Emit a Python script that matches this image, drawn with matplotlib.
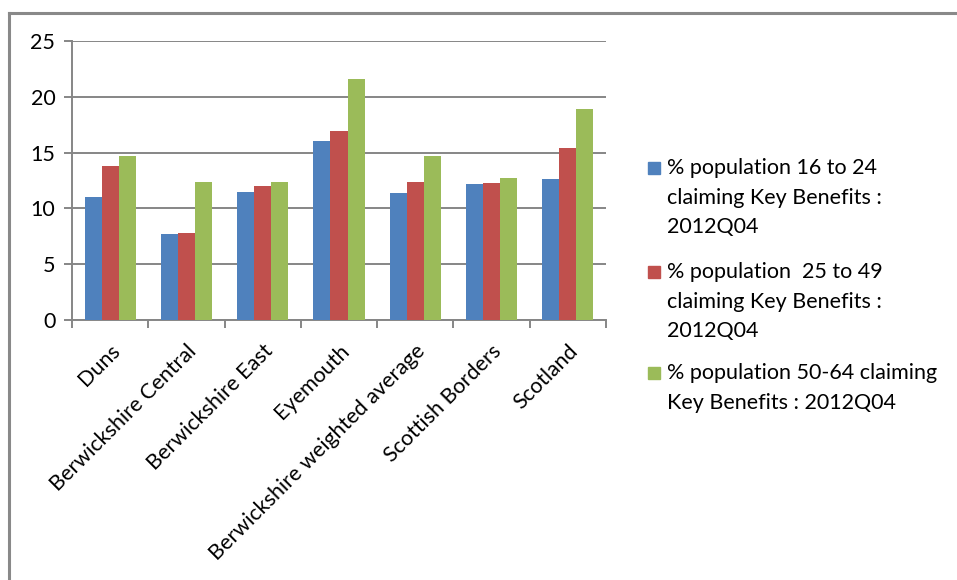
import numpy as np
import matplotlib.pyplot as plt
from matplotlib.lines import Line2D
from matplotlib.patches import Rectangle

categories = ["Duns", "Berwickshire Central", "Berwickshire East", "Eyemouth",
              "Berwickshire weighted average", "Scottish Borders", "Scotland"]
age_16_24 = [11.05, 7.7, 11.5, 16.0, 11.4, 12.2, 12.65]
age_25_49 = [13.8, 7.8, 12.05, 16.95, 12.4, 12.3, 15.4]
age_50_64 = [14.7, 12.4, 12.4, 21.6, 14.7, 12.7, 18.9]
series_labels = ["% population 16 to 24\nclaiming Key Benefits :\n2012Q04",
                 "% population  25 to 49\nclaiming Key Benefits :\n2012Q04",
                 "% population 50-64 claiming\nKey Benefits : 2012Q04"]
colors = ["#4f81bd", "#c0504d", "#9bbb59"]
yticks = [0, 5, 10, 15, 20, 25]

plt.rcParams['font.family'] = ['Lato', 'DejaVu Sans']
W, H = 957, 580
fs = 15.5
fig = plt.figure(figsize=(W / 100, H / 100), dpi=100)
ax = fig.add_axes([72 / W, 1 - 320 / H, (606 - 72) / W, (320 - 41) / H])

grey = "#868686"
x = np.arange(len(categories))
bw = 0.223
for i, (vals, col) in enumerate(zip([age_16_24, age_25_49, age_50_64], colors)):
    ax.bar(x + (i - 1) * bw, vals, width=bw, color=col, zorder=3)

ax.set_xlim(-0.5, len(categories) - 0.5)
ax.set_ylim(0, 25)
ax.set_yticks(yticks)
ax.yaxis.grid(True, color=grey, linewidth=1.4, zorder=0)
ax.tick_params(axis='y', length=6, width=1.4, color=grey, labelsize=fs, pad=6)
ax.set_xticks(np.arange(len(categories) + 1) - 0.5, minor=True)
ax.set_xticks(x)
ax.set_xticklabels(categories, rotation=45, ha='right', va='top',
                   rotation_mode='anchor', fontsize=fs)
ax.tick_params(axis='x', which='major', length=0, pad=15)
ax.tick_params(axis='x', which='minor', length=6, width=1.4, color=grey)
for s in ['top', 'right']:
    ax.spines[s].set_visible(False)
for s in ['left', 'bottom']:
    ax.spines[s].set_color(grey)
    ax.spines[s].set_linewidth(1.4)

# legend drawn by hand so squares sit on the first line
tops = [158, 262, 363]
for lab, col, t in zip(series_labels, colors, tops):
    fig.text(667 / W, 1 - t / H, lab, va='top', ha='left', fontsize=fs,
             linespacing=1.6)
    fig.add_artist(Rectangle((648 / W, 1 - (t + 16) / H), 12 / W, 12 / H,
                             transform=fig.transFigure, color=col))

# outer frame: top and left only
fig.add_artist(Line2D([9 / W, 1], [1 - 13 / H, 1 - 13 / H], color="#898989", lw=2.2))
fig.add_artist(Line2D([9 / W, 9 / W], [0, 1 - 13 / H], color="#898989", lw=2.2))

fig.savefig("out.png", dpi=100, facecolor="white")
